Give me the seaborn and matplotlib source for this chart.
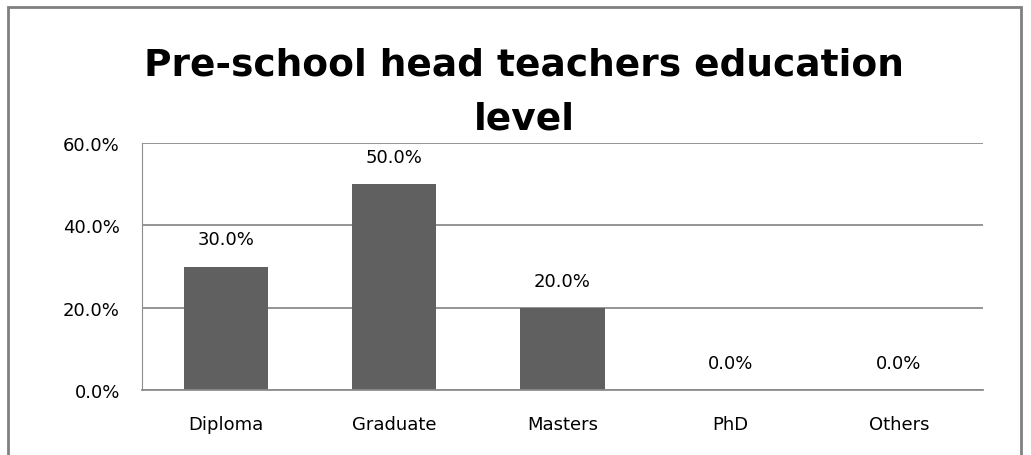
import matplotlib
matplotlib.use("Agg")
import matplotlib.pyplot as plt
import seaborn as sns
import pandas as pd
from matplotlib.ticker import FuncFormatter, FixedLocator
from matplotlib.patches import Rectangle

# data
levels = ["Diploma", "Graduate", "Masters", "PhD", "Others"]
shares = [30.0, 50.0, 20.0, 0.0, 0.0]
y_ticks = [0, 20, 40, 60]

df = pd.DataFrame({"level": levels, "share": shares})

sns.set_style("white")
plt.rcParams["font.family"] = ["DejaVu Sans"]

fig = plt.figure(figsize=(10.31, 4.56), dpi=100)
ax = fig.add_axes([142 / 1031, 1 - 391 / 456, (983 - 142) / 1031, (391 - 144) / 456])

sns.barplot(data=df, x="level", y="share", color="#606060", width=0.5,
            saturation=1, linewidth=0, ax=ax)

ax.set_ylim(0, 60)
ax.set_xlim(-0.5, len(levels) - 0.5)
ax.yaxis.set_major_locator(FixedLocator(y_ticks))
ax.yaxis.set_major_formatter(FuncFormatter(lambda v, p: f"{v:.1f}%"))
ax.grid(axis="y", color="#8c8c8c", linewidth=1.3)
ax.set_axisbelow(True)
for s in ["top", "right"]:
    ax.spines[s].set_visible(False)
ax.spines["left"].set_color("#8c8c8c")
ax.spines["bottom"].set_color("#8c8c8c")
ax.spines["bottom"].set_linewidth(1.3)

ax.set_xticks([i - 0.5 for i in range(len(levels) + 1)], minor=False)
ax.set_xticklabels([])
ax.set_xticks(range(len(levels)), minor=True)
ax.set_xticklabels(levels, minor=True, fontsize=13, color="black")
ax.tick_params(axis="x", which="major", length=6, color="#8c8c8c", direction="out")
ax.tick_params(axis="x", which="minor", length=0, pad=18)
ax.tick_params(axis="y", length=8, color="#8c8c8c", labelsize=13, labelcolor="black", pad=8)
ax.set_xlabel("")
ax.set_ylabel("")

for i, v in enumerate(shares):
    ax.annotate(f"{v:.1f}%", (i, v), xytext=(0, 13), textcoords="offset points",
                ha="center", va="bottom", fontsize=13, color="black")

fig.text(524 / 1031, 1 - 65 / 456, "Pre-school head teachers education",
         ha="center", va="center", fontsize=27, fontweight="bold", color="black")
fig.text(524 / 1031, 1 - 120 / 456, "level",
         ha="center", va="center", fontsize=27, fontweight="bold", color="black")

fig.patches.append(Rectangle((8 / 1031, -0.05), (1021 - 8) / 1031, 1.05 - 8 / 456,
                             transform=fig.transFigure, fill=False,
                             edgecolor="#808080", linewidth=2))

fig.savefig("out.png", dpi=100)
